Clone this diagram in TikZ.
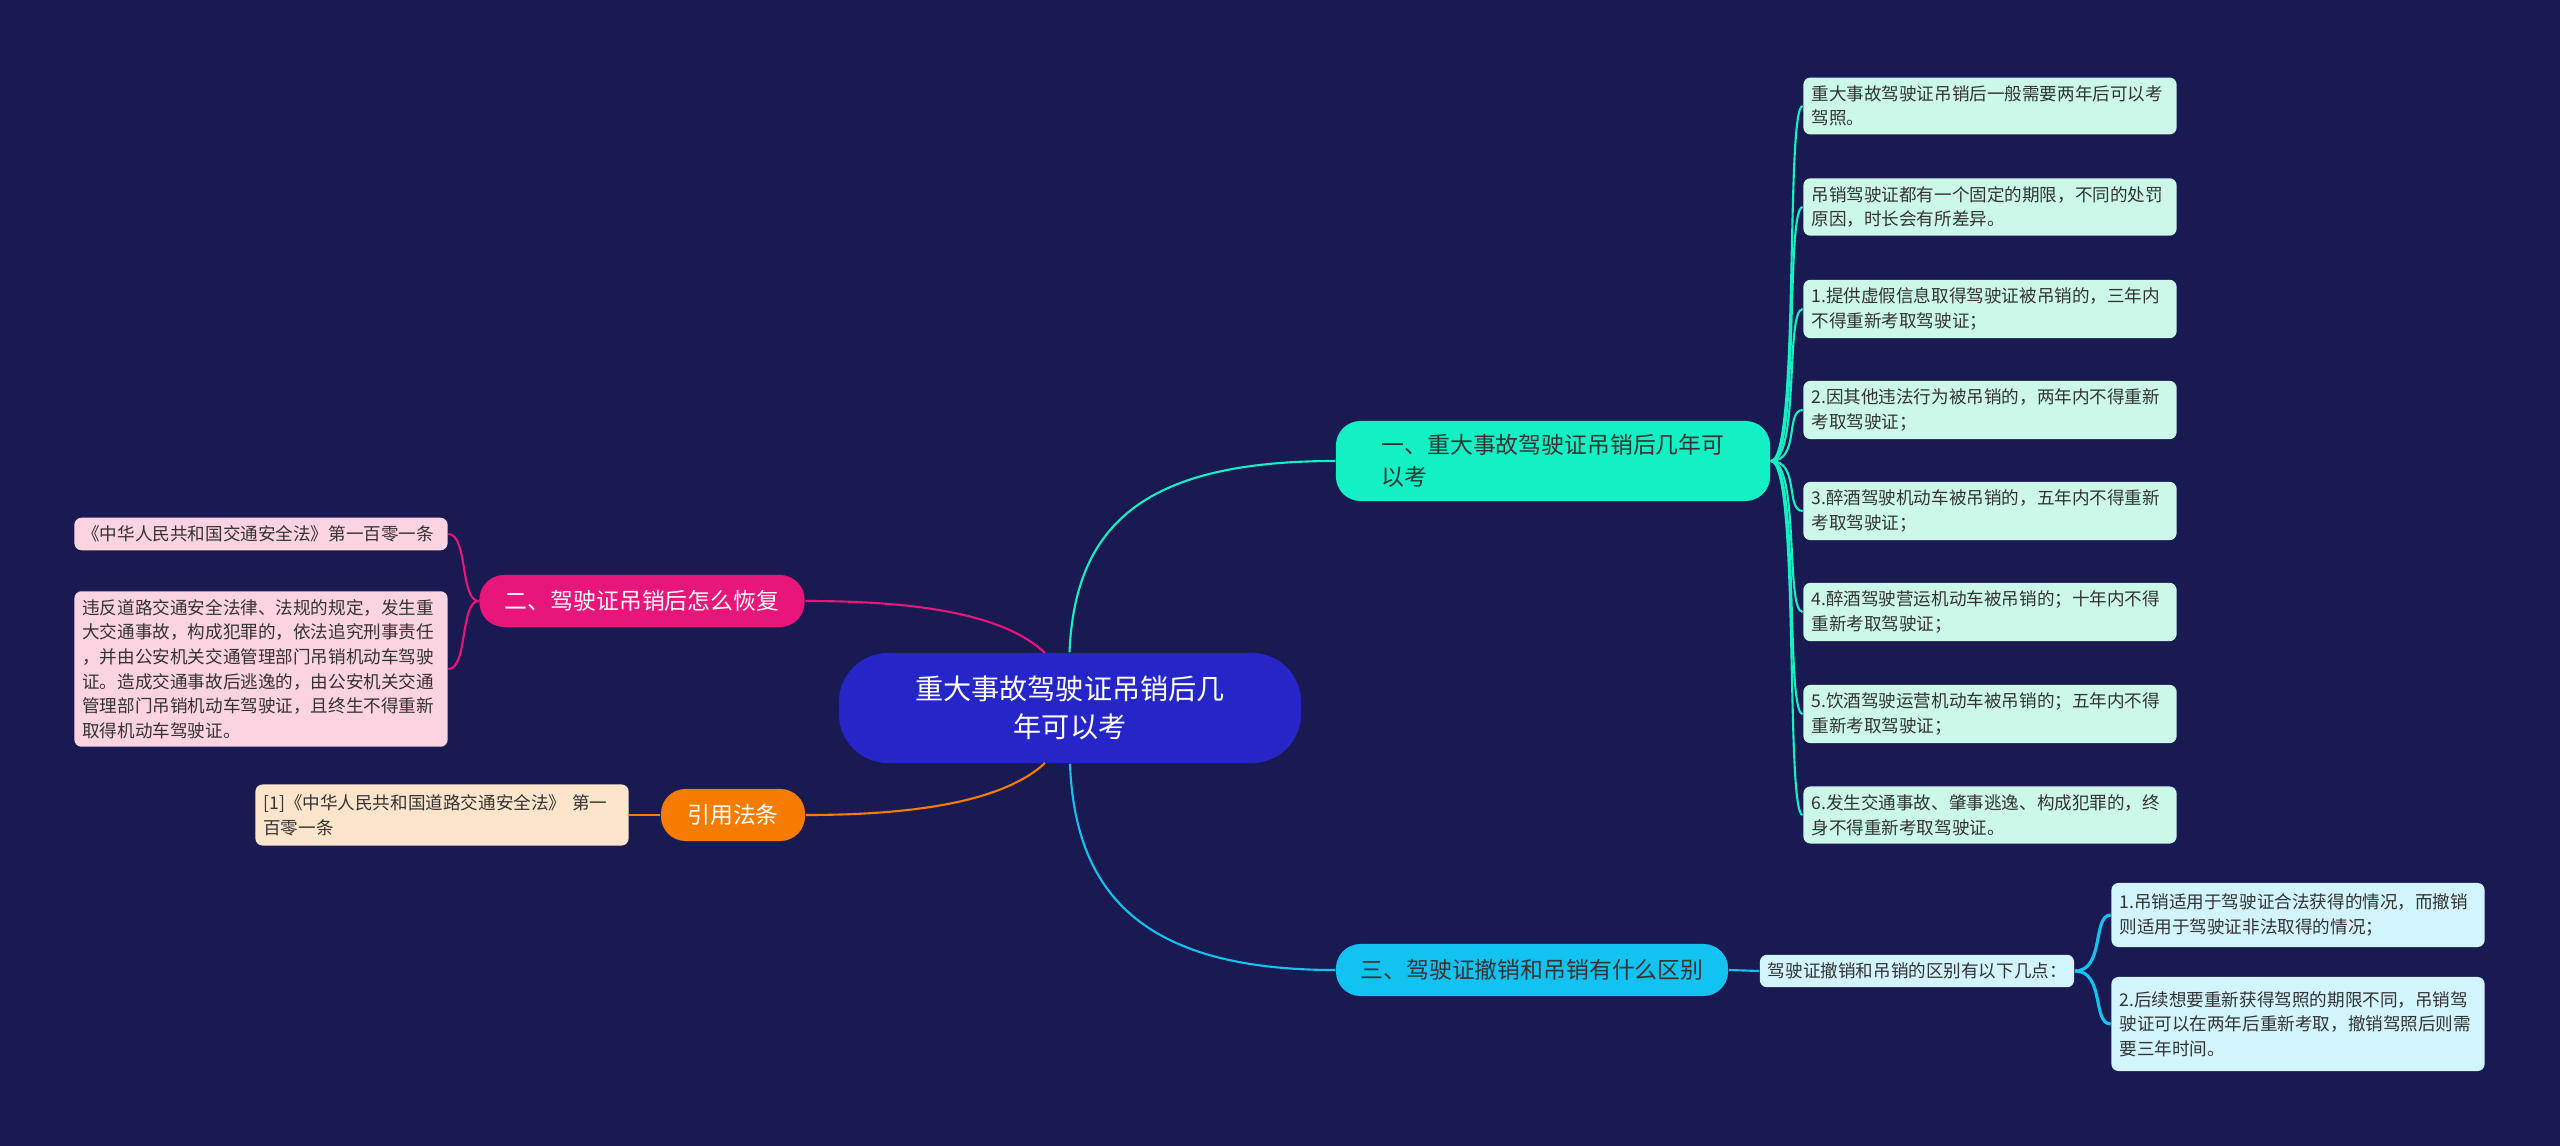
\documentclass[tikz,border=0pt]{standalone}
\usepackage{fontspec}
\setmainfont{Noto Sans CJK SC}
\usetikzlibrary{positioning}
\definecolor{bg}{HTML}{1A1A52}
\definecolor{rootc}{HTML}{2525C8}
\definecolor{tealc}{HTML}{12F0C4}
\definecolor{cyanc}{HTML}{12C2F0}
\definecolor{pinkc}{HTML}{E8157A}
\definecolor{orangec}{HTML}{F57C00}
\definecolor{mintl}{HTML}{CCF8EA}
\definecolor{cyanl}{HTML}{D2F4FC}
\definecolor{pinkl}{HTML}{FCD3E1}
\definecolor{orangel}{HTML}{FDE5CC}
\tikzset{
  leaf/.style={rounded corners=2pt,inner sep=0.08cm,text width=3.57cm,align=left,
    font=\fontsize{5}{7}\selectfont,text=black!80},
  branch/.style={rounded corners=7pt,inner sep=0.1cm,align=left,
    font=\fontsize{6.5}{9}\selectfont},
  link/.style={line width=0.6pt}
}
\begin{document}
\begin{tikzpicture}[x=0.01cm,y=-0.01cm]
	\fill[bg] (0,0) rectangle (2560,1146);
	%root
	\node[fill=rootc,text=white,rounded corners=14pt,minimum width=4.62cm,minimum height=1.1cm,align=center,
	  font=\fontsize{8}{11}\selectfont] (root) at (1070,708) {重大事故驾驶证吊销后几\\年可以考};

	%branches
	\node[branch,fill=tealc,text=black!80,minimum width=4.34cm,minimum height=0.8cm] (b1) at (1553,461) {一、重大事故驾驶证吊销后几年可\\以考};
	\node[branch,fill=cyanc,text=black!80,minimum width=3.92cm,minimum height=0.52cm] (b3) at (1532,970) {三、驾驶证撤销和吊销有什么区别};
	\node[branch,fill=pinkc,text=white,minimum width=3.25cm,minimum height=0.52cm] (b2) at (642,601) {二、驾驶证吊销后怎么恢复};
	\node[branch,fill=orangec,text=white,minimum width=1.44cm,minimum height=0.52cm,align=center] (b4) at (733,815) {引用法条};

	%branch 1 leaves
	\node[leaf,fill=mintl] (r1) at (1990,106) {重大事故驾驶证吊销后一般需要两年后可以考\\驾照。};
	\node[leaf,fill=mintl] (r2) at (1990,207) {吊销驾驶证都有一个固定的期限，不同的处罚\\原因，时长会有所差异。};
	\node[leaf,fill=mintl] (r3) at (1990,309) {1.提供虚假信息取得驾驶证被吊销的，三年内\\不得重新考取驾驶证；};
	\node[leaf,fill=mintl] (r4) at (1990,410) {2.因其他违法行为被吊销的，两年内不得重新\\考取驾驶证；};
	\node[leaf,fill=mintl] (r5) at (1990,511) {3.醉酒驾驶机动车被吊销的，五年内不得重新\\考取驾驶证；};
	\node[leaf,fill=mintl] (r6) at (1990,612) {4.醉酒驾驶营运机动车被吊销的；十年内不得\\重新考取驾驶证；};
	\node[leaf,fill=mintl] (r7) at (1990,714) {5.饮酒驾驶运营机动车被吊销的；五年内不得\\重新考取驾驶证；};
	\node[leaf,fill=mintl] (r8) at (1990,815) {6.发生交通事故、肇事逃逸、构成犯罪的，终\\身不得重新考取驾驶证。};

	%branch 3 leaves
	\node[leaf,fill=cyanl,text width=2.98cm] (s1) at (1917,971) {驾驶证撤销和吊销的区别有以下几点：};
	\node[leaf,fill=cyanl,minimum height=0.64cm] (s2) at (2298,915) {1.吊销适用于驾驶证合法获得的情况，而撤销\\则适用于驾驶证非法取得的情况；};
	\node[leaf,fill=cyanl,minimum height=0.94cm] (s3) at (2298,1024) {2.后续想要重新获得驾照的期限不同，吊销驾\\驶证可以在两年后重新考取，撤销驾照后则需\\要三年时间。};

	%branch 2 leaves
	\node[leaf,fill=pinkl] (l1) at (261,534) {《中华人民共和国交通安全法》第一百零一条};
	\node[leaf,fill=pinkl,minimum height=1.53cm] (l2) at (261,669) {违反道路交通安全法律、法规的规定，发生重\\大交通事故，构成犯罪的，依法追究刑事责任\\，并由公安机关交通管理部门吊销机动车驾驶\\证。造成交通事故后逃逸的，由公安机关交通\\管理部门吊销机动车驾驶证，且终生不得重新\\取得机动车驾驶证。};

	%branch 4 leaf
	\node[leaf,fill=orangel,minimum height=0.61cm] (o1) at (442,815) {[1]《中华人民共和国道路交通安全法》 第一\\百零一条};

	%connectors from root
	\draw[link,tealc] (root.north) ++(-0.5,0) .. controls (1075,520) and (1150,461) .. (b1.west);
	\draw[link,cyanc] (root.south) .. controls (1075,900) and (1150,970) .. (b3.west);
	\draw[link,pinkc] (1045,653) .. controls (1000,610) and (900,601) .. (b2.east);
	\draw[link,orangec] (1045,763) .. controls (1000,805) and (900,815) .. (b4.east);

	%connectors to leaves
	\foreach \n in {r1,r2,r3,r4,r5,r6,r7,r8}
	  \draw[link,tealc] (b1.east) .. controls (1800,461) and (1785,0|-\n.west) .. (\n.west);
	\draw[link,cyanc] (b3.east) -- (s1.west);
	\foreach \n in {s2,s3}
	  \draw[link,cyanc,line width=0.9pt] (s1.east) .. controls (2105,971) and (2092,0|-\n.west) .. (\n.west);
	\foreach \n in {l1,l2}
	  \draw[link,pinkc] (b2.west) .. controls (460,601) and (468,0|-\n.east) .. (\n.east);
	\draw[link,orangec] (b4.west) -- (o1.east);
\end{tikzpicture}
\end{document}
